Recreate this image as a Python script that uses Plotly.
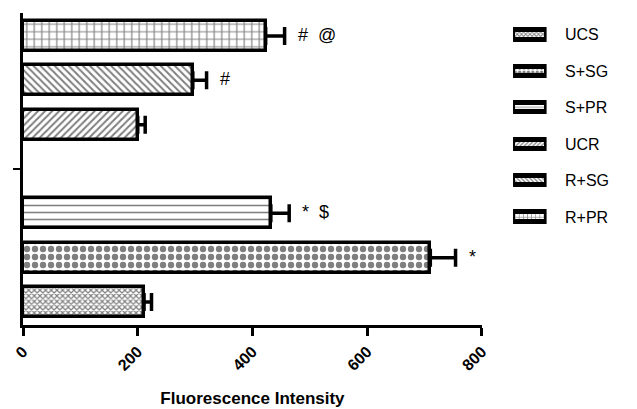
import plotly.graph_objects as go

# ---- data (bottom to top) ----
groups = ["UCS", "S+SG", "S+PR", "UCR", "R+SG", "R+PR"]
positions = [0, 1, 2, 4, 5, 6]          # slot 3 is the gap between the two groups
means = [211, 710, 432, 200, 296, 423]
errors = [13, 44, 32, 13, 24, 33]
marks = ["", "*", "*  $", "", "#", "#  @"]
legend_order = ["UCS", "S+SG", "S+PR", "UCR", "R+SG", "R+PR"]
x_ticks = [0, 200, 400, 600, 800]

patterns = {
    "UCS": dict(shape="x", size=4, solidity=0.5),
    "S+SG": dict(shape=".", size=8, solidity=0.5),
    "S+PR": dict(shape="-", size=7, solidity=0.22),
    "UCR": dict(shape="/", size=5, solidity=0.4),
    "R+SG": dict(shape="\\", size=5, solidity=0.4),
    "R+PR": dict(shape="+", size=7.5, solidity=0.28),
}

FONT = "Liberation Sans, Arial, sans-serif"
W, H = 637, 409
ML, MT, MB = 23, 13, 84
plot_w = W - ML
main_frac = 465 / plot_w

fig = go.Figure()

for g, p, m, e in zip(groups, positions, means, errors):
    pat = patterns[g]
    fig.add_trace(go.Bar(
        x=[m], y=[p], orientation="h", width=0.68,
        marker=dict(color="white", line=dict(color="black", width=3.5),
                    pattern=dict(shape=pat["shape"], size=pat["size"],
                                 solidity=pat["solidity"], fgcolor="black",
                                 bgcolor="white", fillmode="overlay")),
        error_x=dict(type="data", symmetric=False, array=[e], arrayminus=[0],
                     color="black", thickness=3.5, width=9),
        showlegend=False, xaxis="x", yaxis="y",
    ))

for g, p, m, e, t in zip(groups, positions, means, errors, marks):
    if t:
        fig.add_annotation(x=m + e, y=p, xref="x", yref="y", text=t,
                           showarrow=False, xanchor="left", xshift=11, yshift=1,
                           font=dict(family=FONT, size=18, color="black"))

# ---- legend drawn as a small second panel ----
for i, g in enumerate(legend_order):
    pat = patterns[g]
    fig.add_trace(go.Bar(
        x=[1], y=[i], orientation="h", width=0.25,
        marker=dict(color="white", line=dict(color="black", width=5),
                    pattern=dict(shape=pat["shape"], size=max(3, pat["size"] * 0.55),
                                 solidity=pat["solidity"], fgcolor="black",
                                 bgcolor="white", fillmode="overlay")),
        showlegend=False, xaxis="x2", yaxis="y2", hoverinfo="skip",
    ))
    fig.add_annotation(x=1, y=i, xref="x2", yref="y2", text=g, showarrow=False,
                       xanchor="left", xshift=16,
                       font=dict(family=FONT, size=16, color="black"))

fig.update_layout(
    width=W, height=H,
    margin=dict(l=ML, r=0, t=MT, b=MB),
    paper_bgcolor="white", plot_bgcolor="white",
    barmode="overlay", bargap=0,
    font=dict(family=FONT, color="black"),
    xaxis=dict(domain=[0, main_frac], range=[0, 800], tickvals=x_ticks,
               ticks="outside", ticklen=8, tickwidth=3, tickcolor="black",
               showline=True, linewidth=3, linecolor="black", showgrid=False,
               zeroline=False, tickangle=-45,
               tickfont=dict(family=FONT, size=16, color="black", weight="bold"),
               title=dict(text="Fluorescence Intensity", standoff=20,
                          font=dict(family=FONT, size=17, color="black", weight="bold"))),
    yaxis=dict(range=[-0.52, 6.52], tickvals=[3], ticktext=[""],
               ticks="outside", ticklen=7, tickwidth=2, tickcolor="black",
               showline=True, linewidth=3, linecolor="black", showgrid=False,
               zeroline=False),
    xaxis2=dict(domain=[(519.5 - ML) / plot_w, (553.5 - ML) / plot_w], range=[0, 1],
                visible=False, anchor="y2"),
    yaxis2=dict(domain=[0, 1], range=[7.967, -0.604], visible=False, anchor="x2"),
)

fig.write_html("out.html")
